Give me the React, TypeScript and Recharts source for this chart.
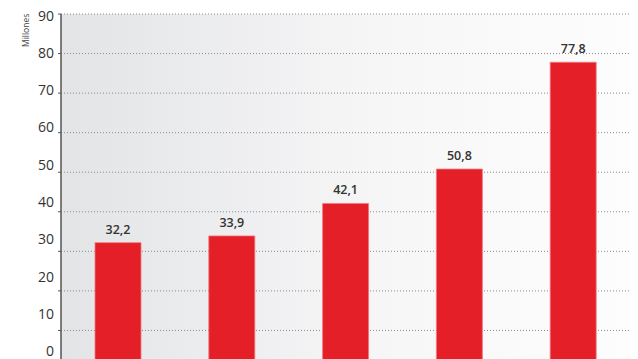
import React from "react";
import { BarChart, Bar, XAxis, YAxis, CartesianGrid, LabelList } from "recharts";

const categories = ["1", "2", "3", "4", "5"];
const values = [32.2, 33.9, 42.1, 50.8, 77.8];
const yTicks = [0, 10, 20, 30, 40, 50, 60, 70, 80, 90];
const axisLabel = "Millones";

const data = categories.map((c, i) => ({ name: c, value: values[i] }));

const fmt = (v: number) => v.toFixed(1).replace(".", ",");

const YTick = (props: any) => {
  const { x, y, payload } = props;
  const shift = 1 - (90 - payload.value) * 0.225;
  return (
    <text
      x={x - 2}
      y={y + shift}
      textAnchor="end"
      dominantBaseline="central"
      fontSize={14}
      fill="#333"
      fontFamily="'Open Sans', sans-serif"
    >
      {payload.value}
    </text>
  );
};

export default function App() {
  return (
    <div
      style={{
        position: "absolute",
        left: 0,
        top: 0,
        width: 638,
        height: 359,
        overflow: "hidden",
        background: "#fff",
      }}
    >
      <BarChart
        width={638}
        height={380}
        data={data}
        margin={{ top: 14, right: 8, bottom: 10, left: 0 }}
        barSize={46}
      >
        <defs>
          <linearGradient id="bgGrad" x1="0" y1="0" x2="1" y2="0">
            <stop offset="0%" stopColor="#e3e4e6" />
            <stop offset="55%" stopColor="#f6f6f7" />
            <stop offset="100%" stopColor="#fdfdfd" />
          </linearGradient>
        </defs>
        <CartesianGrid
          vertical={false}
          stroke="#8a8a8a"
          strokeDasharray="1 2"
          fill="url(#bgGrad)"
          fillOpacity={1}
        />
        <XAxis dataKey="name" hide />
        <YAxis
          domain={[0, 90]}
          ticks={yTicks}
          interval={0}
          width={61}
          axisLine={{ stroke: "#555", strokeWidth: 1.5 }}
          tickLine={{ stroke: "#555" }}
          tickSize={3}
          tick={<YTick />}
          label={{
            value: axisLabel,
            angle: -90,
            position: "insideTopLeft",
            dx: 18,
            dy: 28,
            fontSize: 8.5,
            fill: "#444",
            fontFamily: "'Open Sans', sans-serif",
          }}
        />
        <Bar
          dataKey="value"
          fill="#e41f27"
          stroke="#f07a7e"
          strokeWidth={0.8}
          isAnimationActive={false}
        >
          <LabelList
            dataKey="value"
            position="top"
            offset={9}
            formatter={(v: any) => fmt(Number(v))}
            fontSize={12.5}
            fontWeight={600}
            fill="#333"
            fontFamily="'Open Sans', sans-serif"
          />
        </Bar>
      </BarChart>
    </div>
  );
}
